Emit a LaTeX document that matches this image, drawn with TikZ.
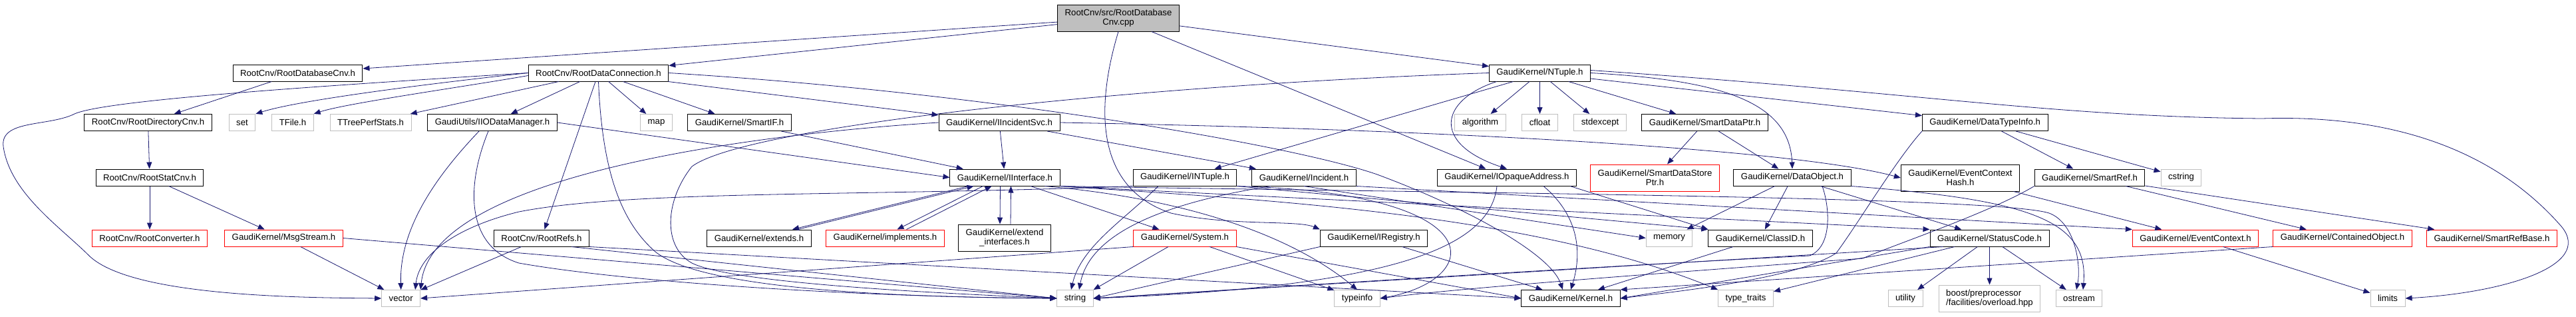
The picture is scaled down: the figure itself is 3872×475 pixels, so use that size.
\documentclass[tikz,border=0pt]{standalone}
\usepackage{fontspec}
\usepackage{tikz}
\usetikzlibrary {arrows.meta}
\newfontfamily\dotfont{Liberation Sans}
\definecolor{edgeblue}{HTML}{191970}
\tikzset{
  hdr/.style={draw=black, line width=1pt, fill=white, inner xsep=11pt, minimum height=25pt, align=center, font=\dotfont\fontsize{13.2}{14}\selectfont},
  syshdr/.style={hdr, draw=gray!50},
  trunc/.style={hdr, draw=red},
  srcfile/.style={hdr, fill=gray!50, minimum height=40pt},
  dep/.style={draw=edgeblue, line width=0.8pt, -{Triangle[length=10pt,width=8pt]}},
}
\begin{document}
\begin{tikzpicture}[x=1pt,y=-1pt]
\useasboundingbox (0,0) rectangle (3872,475);
        \node[srcfile] (root) at (1681,27) {RootCnv/src/RootDatabase\\Cnv.cpp};%ルート
        \node[hdr] (dbcnv) at (447.5,109.5) {RootCnv/RootDatabaseCnv.h};
        \node[hdr] (dconn) at (899.5,109.5) {RootCnv/RootDataConnection.h};
        \node[hdr] (ntuple) at (2314.5,109.5) {GaudiKernel/NTuple.h};
        \node[hdr] (dircnv) at (222.5,184) {RootCnv/RootDirectoryCnv.h};
        \node[syshdr] (set) at (364,184) {set};
        \node[syshdr] (tfile) at (440,184) {TFile.h};
        \node[syshdr] (tperf) at (557,184) {TTreePerfStats.h};
        \node[hdr] (iodm) at (740,184) {GaudiUtils/IIODataManager.h};
        \node[syshdr] (map) at (986.5,184) {map};
        \node[hdr] (smartif) at (1111.5,184) {GaudiKernel/SmartIF.h};
        \node[hdr] (iincsvc) at (1502,184) {GaudiKernel/IIncidentSvc.h};
        \node[syshdr] (algorithm) at (2225,184) {algorithm};
        \node[syshdr] (cfloat) at (2314.5,184) {cfloat};
        \node[syshdr] (stdexcept) at (2405,184) {stdexcept};
        \node[hdr] (sdptr) at (2562.5,184) {GaudiKernel/SmartDataPtr.h};
        \node[hdr] (dtinfo) at (2983.7,184) {GaudiKernel/DataTypeInfo.h};
        \node[hdr] (statcnv) at (225,266.5) {RootCnv/RootStatCnv.h};
        \node[hdr] (iinterface) at (1510.5,266.5) {GaudiKernel/IInterface.h};
        \node[hdr] (intuple) at (1781,266.5) {GaudiKernel/INTuple.h};
        \node[hdr] (incident) at (1960,266.5) {GaudiKernel/Incident.h};
        \node[hdr] (iopaque) at (2265,266.5) {GaudiKernel/IOpaqueAddress.h};
        \node[trunc, minimum height=40pt] (sdsptr) at (2487.5,267) {GaudiKernel/SmartDataStore\\Ptr.h};
        \node[hdr] (dataobj) at (2694,266.5) {GaudiKernel/DataObject.h};
        \node[hdr, minimum height=40pt] (echash) at (2946.5,267) {GaudiKernel/EventContext\\Hash.h};
        \node[hdr] (smartref) at (3141,266.5) {GaudiKernel/SmartRef.h};
        \node[syshdr] (cstring) at (3278.5,266.5) {cstring};
        \node[trunc] (rconv) at (225,357.5) {RootCnv/RootConverter.h};
        \node[trunc] (msgstream) at (426.5,357.5) {GaudiKernel/MsgStream.h};
        \node[hdr] (rootrefs) at (814,357.5) {RootCnv/RootRefs.h};
        \node[hdr] (extends) at (1141,357.5) {GaudiKernel/extends.h};
        \node[trunc] (implements) at (1330.5,357.5) {GaudiKernel/implements.h};
        \node[hdr, minimum height=40pt] (extintf) at (1510,357) {GaudiKernel/extend\\\_interfaces.h};
        \node[trunc] (system) at (1781,357.5) {GaudiKernel/System.h};
        \node[hdr] (iregistry) at (2065,357.5) {GaudiKernel/IRegistry.h};
        \node[syshdr] (memory) at (2509,357.5) {memory};
        \node[hdr] (classid) at (2646,357.5) {GaudiKernel/ClassID.h};
        \node[hdr] (statuscode) at (2990.5,357.5) {GaudiKernel/StatusCode.h};
        \node[trunc] (evctx) at (3300,357.5) {GaudiKernel/EventContext.h};
        \node[trunc] (contobj) at (3521,357.5) {GaudiKernel/ContainedObject.h};
        \node[trunc] (srbase) at (3745.5,357.5) {GaudiKernel/SmartRefBase.h};
        \node[syshdr] (vector) at (602.7,448) {vector};%標準ヘッダ
        \node[syshdr] (string) at (1616,448) {string};
        \node[syshdr] (typeinfo) at (2040,448) {typeinfo};
        \node[hdr] (kernel) at (2361,448) {GaudiKernel/Kernel.h};
        \node[syshdr] (typetraits) at (2624,448) {type\_traits};
        \node[syshdr] (utility) at (2864,448) {utility};
        \node[syshdr, minimum height=40pt, align=left] (boost) at (2990.5,448) {boost/preprocessor\\/facilities/overload.hpp};
        \node[syshdr] (ostream) at (3125,448) {ostream};
        \node[syshdr] (limits) at (3589,448) {limits};

        \draw[dep] (root) -- (dbcnv);%ルートから
        \draw[dep] (root) -- (dconn);
        \draw[dep] (root) -- (ntuple);
        \draw[dep] (root) -- (iopaque);
        \draw[dep] (root.south) .. controls (1650,150) and (1640,280) .. (1760,320) .. controls (1850,340) and (1950,330) .. (iregistry.north west);
        \draw[dep] (dbcnv) -- (dircnv);
        \draw[dep] (dircnv) -- (statcnv);
        \draw[dep] (statcnv) -- (rconv);
        \draw[dep] (statcnv) -- (msgstream);
        \draw[dep] (msgstream) -- (vector);
        \draw[dep] (msgstream.east) -- (string.west);
        \draw[dep] (dconn.west) .. controls (500,128) and (150,150) .. (110,172) .. controls (70,190) and (0,180) .. (5,220) .. controls (15,290) and (90,340) .. (135,385) .. controls (200,445) and (450,447) .. (vector.west);
        \draw[dep] (dconn.west) .. controls (650,125) and (450,150) .. (set.north east);
        \draw[dep] ([yshift=-4pt]dconn.west) .. controls (700,130) and (520,155) .. (tfile.north east);
        \draw[dep] (dconn) -- (tperf);
        \draw[dep] (dconn) -- (iodm);
        \draw[dep] (dconn) -- (map);
        \draw[dep] (dconn) -- (smartif);
        \draw[dep] (dconn) -- (iincsvc);
        \draw[dep] (dconn) -- (rootrefs);
        \draw[dep] (dconn.south) .. controls (905,250) and (930,330) .. (985,378) .. controls (1050,430) and (1300,446) .. (string.west);
        \draw[dep] (dconn.east) .. controls (1500,140) and (1950,220) .. (2070,262) .. controls (2200,310) and (2330,380) .. ([xshift=-12pt]kernel.north);
        \draw[dep] ([xshift=-20pt]iodm.south) .. controls (660,260) and (600,340) .. (vector.north);
        \draw[dep] ([xshift=-6pt]iodm.south) .. controls (700,280) and (700,370) .. (780,395) .. controls (950,425) and (1300,446) .. (string.west);
        \draw[dep] (iodm.east) -- (iinterface.west);
        \draw[dep] (smartif) -- (iinterface);
        \draw[dep] (iincsvc) -- (iinterface);
        \draw[dep] (iincsvc) -- (incident);
        \draw[dep] (iincsvc.east) .. controls (2200,195) and (2700,225) .. (echash.west);
        \draw[dep] (iincsvc.west) .. controls (1150,200) and (650,260) .. (vector.north east);
        \draw[dep] (rootrefs) -- (vector);
        \draw[dep] ([xshift=45pt]rootrefs.south) -- (string.west);
        \draw[dep] (rootrefs.south east) -- (kernel.west);
        \draw[dep] ([xshift=-55pt]iinterface.south) -- ([xshift=50pt]extends.north);
        \draw[dep] ([xshift=58pt]extends.north) -- ([xshift=-47pt]iinterface.south);
        \draw[dep] ([xshift=-33pt]iinterface.south) -- ([xshift=18pt]implements.north);
        \draw[dep] ([xshift=32pt]implements.north) -- ([xshift=-20pt]iinterface.south);
        \draw[dep] ([xshift=-7pt]iinterface.south) -- ([xshift=-7pt]extintf.north);
        \draw[dep] ([xshift=9pt]extintf.north) -- ([xshift=9pt]iinterface.south);
        \draw[dep] (iinterface) -- (system);
        \draw[dep] ([xshift=60pt]iinterface.south) .. controls (1800,300) and (1950,360) .. (typeinfo.north);
        \draw[dep] (iinterface.south east) -- (statuscode.north west);
        \draw[dep] (iinterface.south east) .. controls (2200,290) and (3000,295) .. (3080,320) .. controls (3120,335) and (3128,400) .. ([xshift=-4pt]ostream.north);
        \draw[dep] (iinterface.south east) .. controls (1900,300) and (2300,320) .. (typetraits.north west);
        \draw[dep] (system.south west) -- (vector.east);
        \draw[dep] ([xshift=-25pt]system.south) -- (string.north east);
        \draw[dep] (system) -- (typeinfo);
        \draw[dep] (system.south east) -- (kernel.west);
        \draw[dep] (intuple.south west) .. controls (1300,295) and (950,285) .. (780,318) .. controls (690,340) and (630,380) .. ([xshift=-8pt]vector.north east);
        \draw[dep] ([xshift=-40pt]intuple.south) .. controls (1690,330) and (1625,370) .. ([xshift=-6pt]string.north);
        \draw[dep] (intuple.south east) -- (classid.north west);
        \draw[dep] (intuple.south east) .. controls (2250,290) and (2230,420) .. (typeinfo.east);
        \draw[dep] ([xshift=-50pt]incident.south) .. controls (1780,300) and (1640,340) .. ([xshift=6pt]string.north);
        \draw[dep] (incident.south) -- (memory.west);
        \draw[dep] (incident.south east) -- (evctx.north west);
        \draw[dep] (iregistry.south west) -- (string.east);
        \draw[dep] (iregistry) -- (kernel);
        \draw[dep] ([xshift=-15pt]iopaque.south) .. controls (2240,370) and (2100,430) .. (string.east);
        \draw[dep] ([xshift=55pt]iopaque.south) .. controls (2380,330) and (2375,390) .. (kernel.north);
        \draw[dep] ([xshift=-10pt]iopaque.south east) -- (classid.north west);
        \draw[dep] (ntuple) -- (algorithm);
        \draw[dep] (ntuple) -- (cfloat);
        \draw[dep] (ntuple) -- (stdexcept);
        \draw[dep] (ntuple) -- (sdptr);
        \draw[dep] (ntuple) -- (dtinfo);
        \draw[dep] (ntuple.east) .. controls (2580,120) and (2690,150) .. (dataobj.north);
        \draw[dep] ([yshift=4pt]ntuple.east) .. controls (2900,140) and (3080,175) .. (3400,178) .. controls (3650,170) and (3780,260) .. (3850,340) .. controls (3900,400) and (3760,440) .. (limits.east);
        \draw[dep] ([xshift=-40pt]ntuple.south) -- (intuple);
        \draw[dep] ([xshift=-65pt]ntuple.south) .. controls (2165,150) and (2150,215) .. (iopaque.north);
        \draw[dep] (ntuple.west) .. controls (1700,128) and (1120,190) .. (1040,250) .. controls (1000,300) and (995,370) .. (1040,395) .. controls (1100,425) and (1400,440) .. (string.west);
        \draw[dep] (sdptr) -- (sdsptr);
        \draw[dep] (sdptr) -- (dataobj);
        \draw[dep] (dataobj) -- (memory);
        \draw[dep] (dataobj) -- (classid);
        \draw[dep] (dataobj) -- (statuscode);
        \draw[dep] (dataobj.south east) .. controls (3050,300) and (3140,330) .. ([xshift=6pt]ostream.north);
        \draw[dep] ([xshift=45pt]dataobj.south) .. controls (2750,310) and (2755,370) .. (2720,384) .. controls (2400,400) and (1900,432) .. (string.east);
        \draw[dep] (dtinfo) -- (smartref);
        \draw[dep] (dtinfo) -- (cstring);
        \draw[dep] (dtinfo.south west) .. controls (2850,240) and (2790,340) .. (2760,380) .. controls (2700,420) and (2500,440) .. (kernel.east);
        \draw[dep] (smartref) -- (contobj);
        \draw[dep] (smartref) -- (srbase);
        \draw[dep] (smartref.south west) .. controls (2990,320) and (2840,370) .. (2800,388) .. controls (2500,410) and (2200,432) .. (typeinfo.east);
        \draw[dep] (echash) -- (evctx);
        \draw[dep] (evctx) -- (limits);
        \draw[dep] (contobj.south west) -- (kernel.north east);
        \draw[dep] (statuscode) -- (utility);
        \draw[dep] (statuscode) -- (boost);
        \draw[dep] (statuscode) -- (ostream);
        \draw[dep] (statuscode) -- (typetraits);
        \draw[dep] (statuscode.south west) -- (kernel.east);
        \draw[dep] ([xshift=20pt]statuscode.south west) -- (string.east);
        \draw[dep] (classid) -- (kernel);
\end{tikzpicture}
\end{document}
